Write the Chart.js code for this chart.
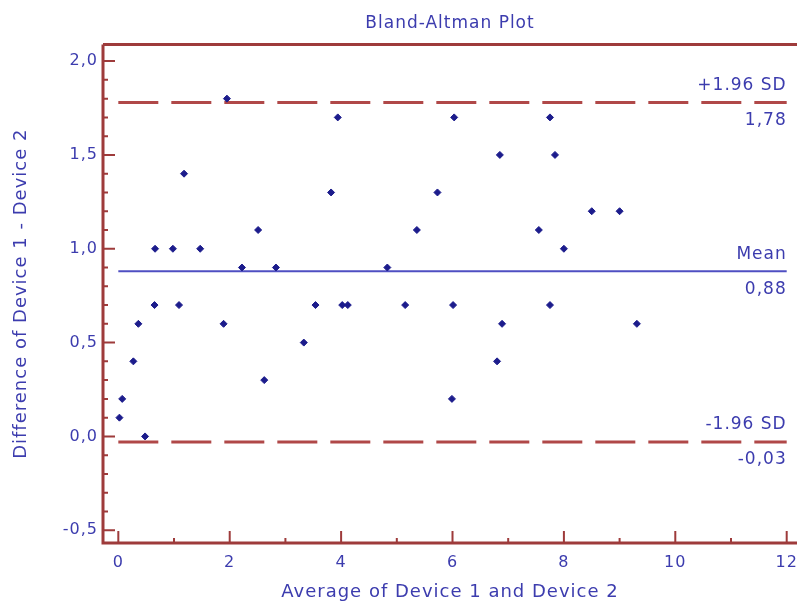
<!DOCTYPE html>
<html>
<head>
<meta charset="utf-8">
<title>Bland-Altman Plot</title>
<script src="https://cdn.jsdelivr.net/npm/chart.js@4.4.1/dist/chart.umd.min.js"></script>
<style>
  html, body { margin: 0; padding: 0; background: #fff; }
  #wrap { width: 797px; height: 607px; }
</style>
</head>
<body>
<div id="wrap"><canvas id="myChart" width="797" height="607"></canvas></div>
<script>
// average of the two devices (x) and their difference (y)
var avgValues  = [1.95, 3.94, 6.03, 7.75, 1.18, 6.85, 7.84, 3.82, 5.73, 2.51,
                  5.36, 7.55, 8.50, 9.00, 0.66, 0.98, 1.47, 8.00, 2.22, 2.83,
                  4.83, 0.65, 1.09, 3.54, 4.02, 4.12, 5.15, 6.01, 7.75, 0.36,
                  1.89, 6.89, 9.31, 3.33, 0.27, 6.80, 2.62, 0.07, 5.99, 0.02, 0.48];
var diffValues = [1.8, 1.7, 1.7, 1.7, 1.4, 1.5, 1.5, 1.3, 1.3, 1.1,
                  1.1, 1.1, 1.2, 1.2, 1.0, 1.0, 1.0, 1.0, 0.9, 0.9,
                  0.9, 0.7, 0.7, 0.7, 0.7, 0.7, 0.7, 0.7, 0.7, 0.6,
                  0.6, 0.6, 0.6, 0.5, 0.4, 0.4, 0.3, 0.2, 0.2, 0.1, 0.0];

var meanDiff = 0.88;
var upperLimit = 1.78;
var lowerLimit = -0.03;
var lineFrom = 0, lineTo = 12;

var xTickValues = [0, 2, 4, 6, 8, 10, 12];
var xMinorTicks = [1, 3, 5, 7, 9, 11];
var yTickValues = [-0.5, 0, 0.5, 1, 1.5, 2];

var axisColor = '#9e3b3b';
var limitColor = '#b04848';
var meanColor = '#4f4fc2';
var pointColor = '#1c1c8c';
var textColor = '#3c3cae';

function comma(v, d) { return v.toFixed(d).replace('.', ','); }

var points = avgValues.map(function (x, i) { return { x: x, y: diffValues[i] }; });

Chart.defaults.font.family = "'DejaVu Sans', sans-serif";
Chart.defaults.color = textColor;

// axis lines, inward tick marks and labels for the reference lines
var framePlugin = {
  id: 'frame',
  beforeDraw: function (chart) {
    chart.ctx.letterSpacing = '1px';
  },
  afterDatasetsDraw: function (chart) {
    var ctx = chart.ctx, a = chart.chartArea;
    var xs = chart.scales.x, ys = chart.scales.y;
    ctx.save();
    ctx.strokeStyle = axisColor;
    ctx.lineWidth = 3;
    ctx.beginPath();
    ctx.moveTo(a.left, a.top); ctx.lineTo(a.right, a.top);
    ctx.moveTo(a.left, a.top); ctx.lineTo(a.left, a.bottom);
    ctx.lineTo(a.right, a.bottom);
    ctx.stroke();

    ctx.lineWidth = 2;
    ctx.beginPath();
    for (var k = -5; k <= 20; k++) {
      var y = ys.getPixelForValue(k / 10);
      var len = (k % 5 === 0) ? 12 : 5;
      ctx.moveTo(a.left, y); ctx.lineTo(a.left + len, y);
    }
    xTickValues.forEach(function (v) {
      var x = xs.getPixelForValue(v);
      ctx.moveTo(x, a.bottom); ctx.lineTo(x, a.bottom - 12);
    });
    xMinorTicks.forEach(function (v) {
      var x = xs.getPixelForValue(v);
      ctx.moveTo(x, a.bottom); ctx.lineTo(x, a.bottom - 5);
    });
    ctx.stroke();

    ctx.fillStyle = textColor;
    ctx.font = "17px 'DejaVu Sans', sans-serif";
    ctx.letterSpacing = '1px';
    ctx.textAlign = 'right';
    ctx.textBaseline = 'middle';
    var rx = xs.getPixelForValue(lineTo);
    [['+1.96 SD', upperLimit], ['Mean', meanDiff], ['-1.96 SD', lowerLimit]].forEach(function (l) {
      var y = ys.getPixelForValue(l[1]);
      ctx.fillText(l[0], rx, y - 17);
      ctx.fillText(comma(l[1], 2), rx, y + 18);
    });
    ctx.restore();
  }
};

var ctx = document.getElementById('myChart').getContext('2d');
var chart = new Chart(ctx, {
  type: 'scatter',
  data: {
    datasets: [{
      label: 'Differences',
      data: points,
      pointStyle: 'rectRot',
      pointRadius: 3.5,
      backgroundColor: pointColor,
      borderColor: pointColor,
      borderWidth: 1
    }, {
      label: '+1.96 SD',
      type: 'line',
      data: [{ x: lineFrom, y: upperLimit }, { x: lineTo, y: upperLimit }],
      borderColor: limitColor,
      borderWidth: 3,
      borderDash: [40, 13],
      pointRadius: 0
    }, {
      label: 'Mean',
      type: 'line',
      data: [{ x: lineFrom, y: meanDiff }, { x: lineTo, y: meanDiff }],
      borderColor: meanColor,
      borderWidth: 2,
      pointRadius: 0
    }, {
      label: '-1.96 SD',
      type: 'line',
      data: [{ x: lineFrom, y: lowerLimit }, { x: lineTo, y: lowerLimit }],
      borderColor: limitColor,
      borderWidth: 3,
      borderDash: [40, 13],
      pointRadius: 0
    }]
  },
  options: {
    responsive: false,
    animation: false,
    layout: { padding: 0, autoPadding: false },
    plugins: {
      legend: { display: false },
      tooltip: { enabled: false },
      title: {
        display: true,
        text: 'Bland-Altman Plot',
        fullSize: false,
        color: textColor,
        font: { size: 17, weight: 'normal' },
        padding: { top: 13, bottom: 11 }
      }
    },
    scales: {
      x: {
        type: 'linear',
        min: -0.275,
        max: 12.185,
        grid: { display: false, drawTicks: false },
        border: { display: false },
        afterBuildTicks: function (s) { s.ticks = xTickValues.map(function (v) { return { value: v }; }); },
        afterFit: function (s) { s.height = 64; s.paddingLeft = 0; s.paddingRight = 0; },
        ticks: { padding: 10, maxRotation: 0, font: { size: 16 }, color: textColor,
                 callback: function (v) { return String(v); } },
        title: { display: true, text: 'Average of Device 1 and Device 2',
                 font: { size: 18 }, color: textColor, padding: { top: 0, bottom: 4 } }
      },
      y: {
        min: -0.568,
        max: 2.089,
        grid: { display: false, drawTicks: false },
        border: { display: false },
        afterBuildTicks: function (s) { s.ticks = yTickValues.map(function (v) { return { value: v }; }); },
        afterFit: function (s) { s.width = 103; s.paddingTop = 0; s.paddingBottom = 0; },
        ticks: { padding: 5, font: { size: 16 }, color: textColor,
                 callback: function (v) { return comma(v, 1); } },
        title: { display: true, text: 'Difference of Device 1 - Device 2',
                 font: { size: 18 }, color: textColor, padding: { top: 11, bottom: 0 } }
      }
    }
  },
  plugins: [framePlugin]
});
</script>
</body>
</html>
